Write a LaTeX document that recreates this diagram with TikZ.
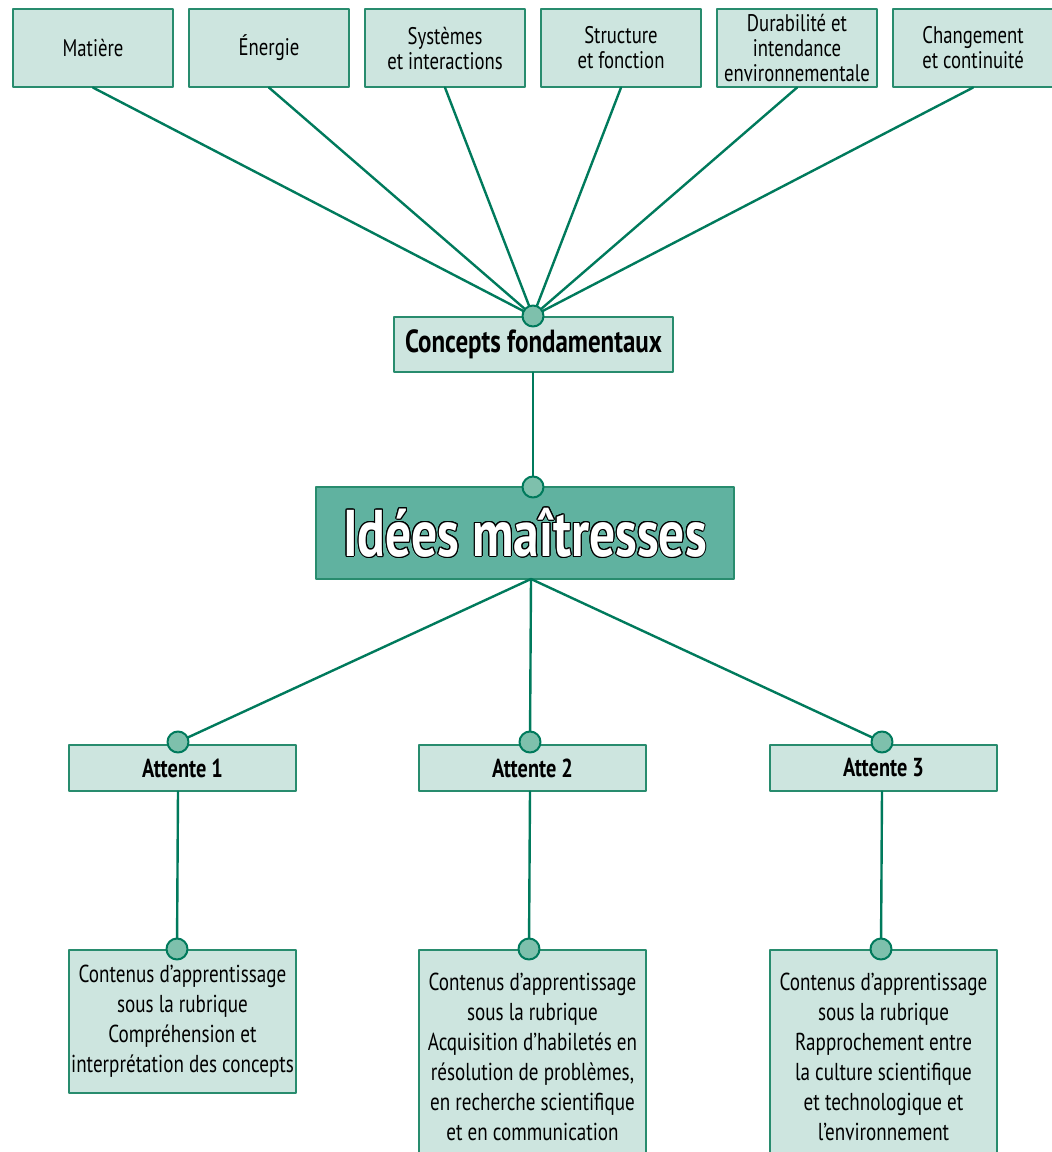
\documentclass[tikz,border=0pt]{standalone}
\usepackage{fontspec}
\setmainfont{PT Sans}[FakeStretch=0.78]
\usepackage{contour}
\contourlength{1pt}
\definecolor{lien}{RGB}{0,122,92}
\definecolor{cadre}{RGB}{40,140,110}
\definecolor{fondclair}{RGB}{205,229,223}
\definecolor{fondfonce}{RGB}{96,178,160}
\definecolor{pastille}{RGB}{126,192,172}
\tikzset{
	boite/.style={draw=cadre, fill=fondclair, line width=1.2pt, inner xsep=0pt, inner ysep=2pt, align=center},
	concept/.style={boite, minimum width=160pt, minimum height=78pt, font=\fontsize{24}{25}\selectfont},
	attente/.style={boite, minimum width=227pt, minimum height=46pt, font=\bfseries\fontsize{26}{28}\selectfont},
	contenu/.style={boite, minimum width=227pt, font=\fontsize{24.5}{30}\selectfont},
	lien/.style={draw=lien, line width=2.4pt},
	point/.style={circle, draw=lien, fill=pastille, line width=2pt, minimum size=21pt, inner sep=0pt}
}
\begin{document}
\begin{tikzpicture}[x=1pt, y=-1pt, line join=round, line cap=round]
	\clip (0,0) rectangle (1052,1152);
	\useasboundingbox (0,0) rectangle (1052,1152);
	% concepts du haut
	\foreach \nom/\txt [count=\i from 0] in {m/Matière, e/Énergie, s/Systèmes\\et interactions, f/Structure\\et fonction, d/Durabilité et\\intendance\\environnementale, c/Changement\\et continuité}
		\node[concept] (\nom) at ({93+176*\i},48) {\txt};
	\node[boite, minimum width=279pt, minimum height=55pt, font=\bfseries\fontsize{32}{36}\selectfont] (cf) at (533.5,344.5) {Concepts fondamentaux};
	\node[boite, fill=fondfonce, minimum width=418pt, minimum height=92pt, font=\bfseries\fontsize{66}{70}\selectfont] (im) at (525,533) {\contour{black}{\textcolor{white}{Idées maîtresses}}};
	\coordinate (p0) at (533,316);
	\coordinate (p1) at (533,487);
	\coordinate (b) at (531,579);
	% attentes et contenus
	\foreach \k/\x/\px in {1/182.5/178, 2/532.5/530, 3/883.5/882} {
		\node[attente] (a\k) at (\x,768) {Attente \k};
		\coordinate (q\k) at (\px,742);
		\coordinate (r\k) at (\px-1,949);
	}
	\node[contenu, minimum height=143pt] (c1) at (182.5,1021.5) {Contenus d’apprentissage\\sous la rubrique\\Compréhension et\\interprétation des concepts};
	\node[contenu, minimum height=214pt] (c2) at (532.5,1057) {Contenus d’apprentissage\\sous la rubrique\\Acquisition d’habiletés en\\résolution de problèmes,\\en recherche scientifique\\et en communication};
	\node[contenu, minimum height=214pt] (c3) at (883.5,1057) {Contenus d’apprentissage\\sous la rubrique\\Rapprochement entre\\la culture scientifique\\et technologique et\\l’environnement};
	% liens
	\foreach \nom in {m,e,s,f,d,c}
		\draw[lien] (\nom.south) -- (p0);
	\draw[lien] (cf.south -| p1) -- (p1);
	\foreach \k in {1,2,3} {
		\draw[lien] (b) -- (q\k);
		\draw[lien] (a\k.south -| q\k) -- (r\k);
	}
	\foreach \p in {p0,p1,q1,q2,q3,r1,r2,r3}
		\node[point] at (\p) {};
\end{tikzpicture}
\end{document}
